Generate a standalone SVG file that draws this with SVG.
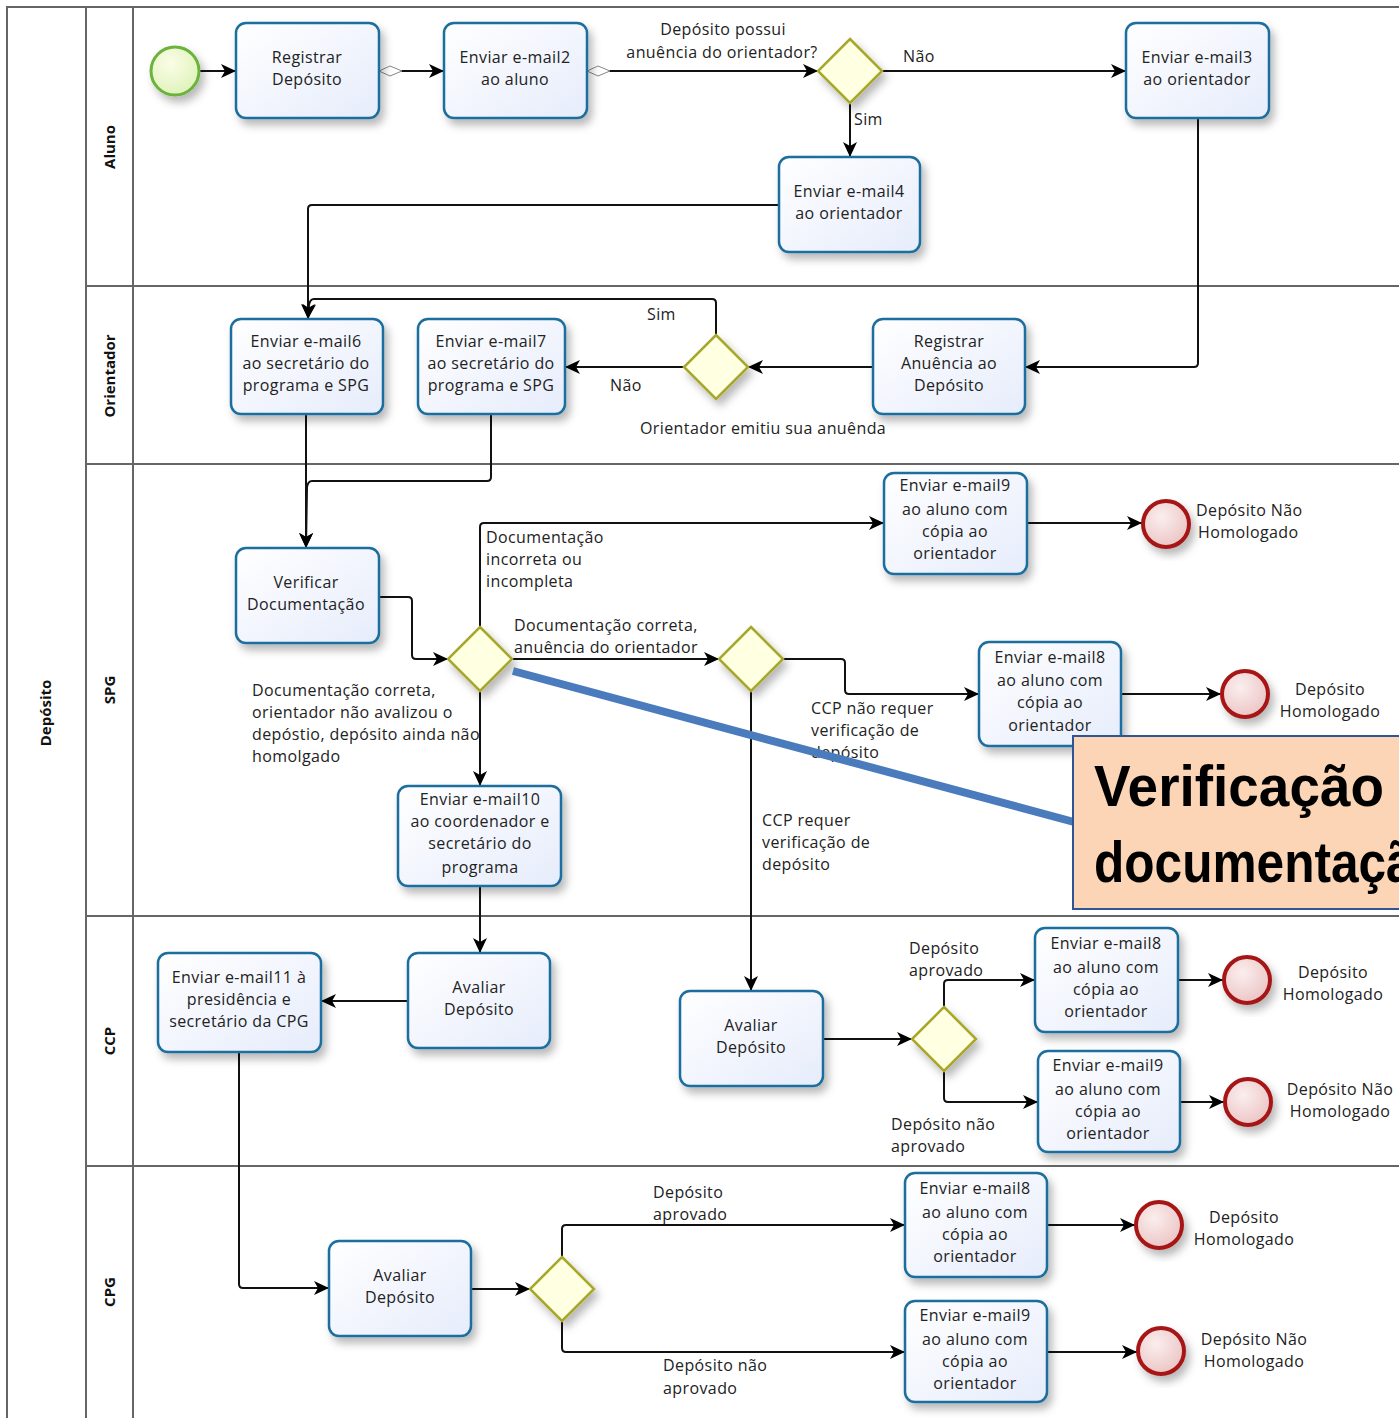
<svg xmlns="http://www.w3.org/2000/svg" width="1399" height="1418" viewBox="0 0 1399 1418">
<defs>
<linearGradient id="gTask" x1="0" y1="0" x2="1" y2="1"><stop offset="0" stop-color="#ffffff"/><stop offset="1" stop-color="#e6ecfb"/></linearGradient>
<radialGradient id="gEnd" cx="0.4" cy="0.35" r="0.7"><stop offset="0" stop-color="#fbeeee"/><stop offset="1" stop-color="#ebc3c3"/></radialGradient>
<radialGradient id="gStart" cx="0.4" cy="0.35" r="0.7"><stop offset="0" stop-color="#fbfde8"/><stop offset="1" stop-color="#def2b8"/></radialGradient>
<filter id="sh" x="-20%" y="-20%" width="150%" height="150%"><feDropShadow dx="4" dy="6" stdDeviation="4" flood-color="#000" flood-opacity="0.28"/></filter>
<marker id="arr" markerUnits="userSpaceOnUse" markerWidth="16" markerHeight="16" refX="15" refY="8" orient="auto"><path d="M0,1 L15,8 L0,15 L4,8 z" fill="#000"/></marker>
<marker id="dia" markerUnits="userSpaceOnUse" markerWidth="26" markerHeight="12" refX="1" refY="6" orient="auto"><path d="M1,6 L12,1 L24,6 L12,11 z" fill="#fff" stroke="#888" stroke-width="1"/></marker>
</defs>
<style>
.task{fill:url(#gTask);stroke:#1a6e9e;stroke-width:2.5;filter:url(#sh)}
.gw{fill:#ffffe2;stroke:#a7a82a;stroke-width:2.5;filter:url(#sh)}
.end{fill:url(#gEnd);stroke:#a61515;stroke-width:4;filter:url(#sh)}
.start{fill:url(#gStart);stroke:#6cb33c;stroke-width:3;filter:url(#sh)}
.t,.l,.lm{font-family:"Open Sans","Noto Sans",sans-serif;font-size:16px;letter-spacing:0.4px;fill:#222}
.t,.lm{text-anchor:middle}
.lane{font-family:"Open Sans","Noto Sans",sans-serif;font-size:15px;font-weight:bold;fill:#111;text-anchor:middle}
.c{fill:none;stroke:#111;stroke-width:2;marker-end:url(#arr)}
.cd{fill:none;stroke:#111;stroke-width:2;marker-end:url(#arr);marker-start:url(#dia)}
.bd{fill:none;stroke:#666;stroke-width:2}
</style>
<rect x="0" y="0" width="1399" height="1418" fill="#fff"/>
<g id="pool">
<path class="bd" d="M1399,7 H7 V1418" stroke="#333"/>
<path class="bd" d="M86,7 V1418 M133,7 V1418 M86,286 H1399 M86,464 H1399 M86,916 H1399 M86,1166 H1399"/>
<text class="lane" transform="translate(51,713) rotate(-90)">Depósito</text>
<text class="lane" transform="translate(115,147) rotate(-90)">Aluno</text>
<text class="lane" transform="translate(115,376) rotate(-90)">Orientador</text>
<text class="lane" transform="translate(115,690) rotate(-90)">SPG</text>
<text class="lane" transform="translate(115,1041) rotate(-90)">CCP</text>
<text class="lane" transform="translate(115,1292) rotate(-90)">CPG</text>
</g>
<g id="connectors">
<path class="c" d="M199,71 H236"/>
<path class="cd" d="M379,71 H444"/>
<path class="cd" d="M587,71 H818"/>
<path class="c" d="M882,71 H1126"/>
<path class="c" d="M850,103 V157"/>
<path class="c" d="M1198,118 V363 Q1198,367 1194,367 H1025"/>
<path class="c" d="M779,205 H312 Q308,205 308,209 V319"/>
<path class="c" d="M873,367 H748"/>
<path class="c" d="M684,367 H565"/>
<path class="c" d="M716,335 V303 Q716,299 712,299 H314 Q310,299 309,305 L308,319"/>
<path class="c" d="M306,414 V548"/>
<path class="c" d="M491,414 V477 Q491,481 487,481 H312 Q308,481 307,487 L306,548"/>
<path class="c" d="M379,597 H408 Q412,597 412,601 V655 Q412,659 416,659 H448"/>
<path class="c" d="M480,627 V527 Q480,523 484,523 H884"/>
<path class="c" d="M512,659 H719"/>
<path class="c" d="M480,691 V786"/>
<path class="c" d="M783,659 H841 Q845,659 845,663 V690 Q845,694 849,694 H979"/>
<path class="c" d="M751,691 V991"/>
<path class="c" d="M1027,523 H1142"/>
<path class="c" d="M1121,694 H1221"/>
<path class="c" d="M480,886 V953"/>
<path class="c" d="M408,1001 H321"/>
<path class="c" d="M239,1052 V1284 Q239,1288 243,1288 H329"/>
<path class="c" d="M823,1039 H912"/>
<path class="c" d="M944,1007 V984 Q944,980 948,980 H1035"/>
<path class="c" d="M944,1071 V1098 Q944,1102 948,1102 H1038"/>
<path class="c" d="M1178,980 H1223"/>
<path class="c" d="M1180,1102 H1224"/>
<path class="c" d="M471,1289 H530"/>
<path class="c" d="M562,1257 V1229 Q562,1225 566,1225 H905"/>
<path class="c" d="M562,1321 V1348 Q562,1352 566,1352 H905"/>
<path class="c" d="M1047,1225 H1135"/>
<path class="c" d="M1047,1352 H1137"/>
</g>
<g id="edge-labels">
<text class="lm" x="723" y="35">Depósito possui</text>
<text class="lm" x="722" y="58">anuência do orientador?</text>
<text class="l" x="903" y="62">Não</text>
<text class="l" x="854" y="125">Sim</text>
<text class="l" x="647" y="320">Sim</text>
<text class="l" x="610" y="391">Não</text>
<text class="l" x="640" y="434">Orientador emitiu sua anuênda</text>
<text class="l" x="486" y="543">Documentação</text>
<text class="l" x="486" y="565">incorreta ou</text>
<text class="l" x="486" y="587">incompleta</text>
<text class="l" x="514" y="631">Documentação correta,</text>
<text class="l" x="514" y="653">anuência do orientador</text>
<text class="l" x="252" y="696">Documentação correta,</text>
<text class="l" x="252" y="718">orientador não avalizou o</text>
<text class="l" x="252" y="740" letter-spacing="0">depóstio, depósito ainda não</text>
<text class="l" x="252" y="762">homolgado</text>
<text class="l" x="811" y="714">CCP não requer</text>
<text class="l" x="811" y="736">verificação de</text>
<text class="l" x="811" y="758">depósito</text>
<text class="l" x="762" y="826">CCP requer</text>
<text class="l" x="762" y="848">verificação de</text>
<text class="l" x="762" y="870">depósito</text>
<text class="l" x="909" y="954">Depósito</text>
<text class="l" x="909" y="976">aprovado</text>
<text class="l" x="891" y="1130">Depósito não</text>
<text class="l" x="891" y="1152">aprovado</text>
<text class="l" x="653" y="1198">Depósito</text>
<text class="l" x="653" y="1220">aprovado</text>
<text class="l" x="663" y="1371">Depósito não</text>
<text class="l" x="663" y="1394">aprovado</text>
</g>
<g id="start"><circle class="start" cx="175" cy="71" r="24"/></g>
<g id="t-registrar"><rect class="task" x="236" y="23" width="143" height="95" rx="10"/><text class="t" x="307" y="63">Registrar</text><text class="t" x="307" y="85">Depósito</text></g>
<g id="t-email2"><rect class="task" x="444" y="23" width="143" height="95" rx="10"/><text class="t" x="515" y="63">Enviar e-mail2</text><text class="t" x="515" y="85">ao aluno</text></g>
<g id="gw1"><path class="gw" d="M850,39 L882,71 L850,103 L818,71 z"/></g>
<g id="t-email3"><rect class="task" x="1126" y="23" width="143" height="95" rx="10"/><text class="t" x="1197" y="63">Enviar e-mail3</text><text class="t" x="1197" y="85">ao orientador</text></g>
<g id="t-email4"><rect class="task" x="779" y="157" width="141" height="95" rx="10"/><text class="t" x="849" y="197">Enviar e-mail4</text><text class="t" x="849" y="219">ao orientador</text></g>
<g id="t-email6"><rect class="task" x="231" y="319" width="152" height="95" rx="10"/><text class="t" x="306" y="347">Enviar e-mail6</text><text class="t" x="306" y="369">ao secretário do</text><text class="t" x="306" y="391">programa e SPG</text></g>
<g id="t-email7"><rect class="task" x="418" y="319" width="147" height="95" rx="10"/><text class="t" x="491" y="347">Enviar e-mail7</text><text class="t" x="491" y="369" letter-spacing="0">ao secretário do</text><text class="t" x="491" y="391" letter-spacing="0">programa e SPG</text></g>
<g id="gw2"><path class="gw" d="M716,335 L748,367 L716,399 L684,367 z"/></g>
<g id="t-anuencia"><rect class="task" x="873" y="319" width="152" height="95" rx="10"/><text class="t" x="949" y="347">Registrar</text><text class="t" x="949" y="369">Anuência ao</text><text class="t" x="949" y="391">Depósito</text></g>
<g id="t-email9-spg"><rect class="task" x="884" y="473" width="143" height="101" rx="10"/><text class="t" x="955" y="491">Enviar e-mail9</text><text class="t" x="955" y="515">ao aluno com</text><text class="t" x="955" y="537">cópia ao</text><text class="t" x="955" y="559">orientador</text></g>
<g id="end-spg1"><circle class="end" cx="1166" cy="524" r="23"/><text class="l" x="1196" y="516">Depósito Não</text><text class="l" x="1198" y="538">Homologado</text></g>
<g id="t-verificar"><rect class="task" x="236" y="548" width="143" height="95" rx="10"/><text class="t" x="306" y="588">Verificar</text><text class="t" x="306" y="610">Documentação</text></g>
<g id="gw3"><path class="gw" d="M480,627 L512,659 L480,691 L448,659 z"/></g>
<g id="gw4"><path class="gw" d="M751,627 L783,659 L751,691 L719,659 z"/></g>
<g id="t-email8-spg"><rect class="task" x="979" y="642" width="142" height="104" rx="10"/><text class="t" x="1050" y="663">Enviar e-mail8</text><text class="t" x="1050" y="686">ao aluno com</text><text class="t" x="1050" y="708">cópia ao</text><text class="t" x="1050" y="731">orientador</text></g>
<g id="end-spg2"><circle class="end" cx="1245" cy="694" r="23"/><text class="lm" x="1330" y="695">Depósito</text><text class="lm" x="1330" y="717">Homologado</text></g>
<g id="t-email10"><rect class="task" x="398" y="786" width="163" height="100" rx="10"/><text class="t" x="480" y="805">Enviar e-mail10</text><text class="t" x="480" y="827" letter-spacing="0">ao coordenador e</text><text class="t" x="480" y="849">secretário do</text><text class="t" x="480" y="873">programa</text></g>
<g id="t-email11"><rect class="task" x="158" y="953" width="163" height="99" rx="10"/><text class="t" x="239" y="983" letter-spacing="0">Enviar e-mail11 à</text><text class="t" x="239" y="1005">presidência e</text><text class="t" x="239" y="1027" letter-spacing="0">secretário da CPG</text></g>
<g id="t-avaliar-ccp1"><rect class="task" x="408" y="953" width="142" height="95" rx="10"/><text class="t" x="479" y="993">Avaliar</text><text class="t" x="479" y="1015">Depósito</text></g>
<g id="t-avaliar-ccp2"><rect class="task" x="680" y="991" width="143" height="95" rx="10"/><text class="t" x="751" y="1031">Avaliar</text><text class="t" x="751" y="1053">Depósito</text></g>
<g id="gw5"><path class="gw" d="M944,1007 L976,1039 L944,1071 L912,1039 z"/></g>
<g id="t-email8-ccp"><rect class="task" x="1035" y="928" width="143" height="104" rx="10"/><text class="t" x="1106" y="949">Enviar e-mail8</text><text class="t" x="1106" y="973">ao aluno com</text><text class="t" x="1106" y="995">cópia ao</text><text class="t" x="1106" y="1017">orientador</text></g>
<g id="end-ccp1"><circle class="end" cx="1247" cy="980" r="23"/><text class="lm" x="1333" y="978">Depósito</text><text class="lm" x="1333" y="1000">Homologado</text></g>
<g id="t-email9-ccp"><rect class="task" x="1038" y="1051" width="142" height="101" rx="10"/><text class="t" x="1108" y="1071">Enviar e-mail9</text><text class="t" x="1108" y="1095">ao aluno com</text><text class="t" x="1108" y="1117">cópia ao</text><text class="t" x="1108" y="1139">orientador</text></g>
<g id="end-ccp2"><circle class="end" cx="1248" cy="1102" r="23"/><text class="lm" x="1340" y="1095">Depósito Não</text><text class="lm" x="1340" y="1117">Homologado</text></g>
<g id="t-avaliar-cpg"><rect class="task" x="329" y="1241" width="142" height="95" rx="10"/><text class="t" x="400" y="1281">Avaliar</text><text class="t" x="400" y="1303">Depósito</text></g>
<g id="gw6"><path class="gw" d="M562,1257 L594,1289 L562,1321 L530,1289 z"/></g>
<g id="t-email8-cpg"><rect class="task" x="905" y="1173" width="142" height="104" rx="10"/><text class="t" x="975" y="1194">Enviar e-mail8</text><text class="t" x="975" y="1218">ao aluno com</text><text class="t" x="975" y="1240">cópia ao</text><text class="t" x="975" y="1262">orientador</text></g>
<g id="end-cpg1"><circle class="end" cx="1159" cy="1225" r="23"/><text class="lm" x="1244" y="1223">Depósito</text><text class="lm" x="1244" y="1245">Homologado</text></g>
<g id="t-email9-cpg"><rect class="task" x="905" y="1301" width="142" height="101" rx="10"/><text class="t" x="975" y="1321">Enviar e-mail9</text><text class="t" x="975" y="1345">ao aluno com</text><text class="t" x="975" y="1367">cópia ao</text><text class="t" x="975" y="1389">orientador</text></g>
<g id="end-cpg2"><circle class="end" cx="1161" cy="1351" r="23"/><text class="lm" x="1254" y="1345">Depósito Não</text><text class="lm" x="1254" y="1367">Homologado</text></g>
<g id="callout">
<line x1="513" y1="671" x2="1074" y2="822" stroke="#4a7bbd" stroke-width="8"/>
<rect x="1073" y="736" width="340" height="173" fill="#fbd5b5" stroke="#2f5597" stroke-width="2"/>
<text x="1094" y="806" font-family="'Liberation Sans',Arial,sans-serif" font-weight="bold" font-size="58" fill="#000" textLength="290" lengthAdjust="spacingAndGlyphs">Verificação</text>
<text x="1094" y="882" font-family="'Liberation Sans',Arial,sans-serif" font-weight="bold" font-size="58" fill="#000" textLength="350" lengthAdjust="spacingAndGlyphs">documentação</text>
</g>
</svg>
